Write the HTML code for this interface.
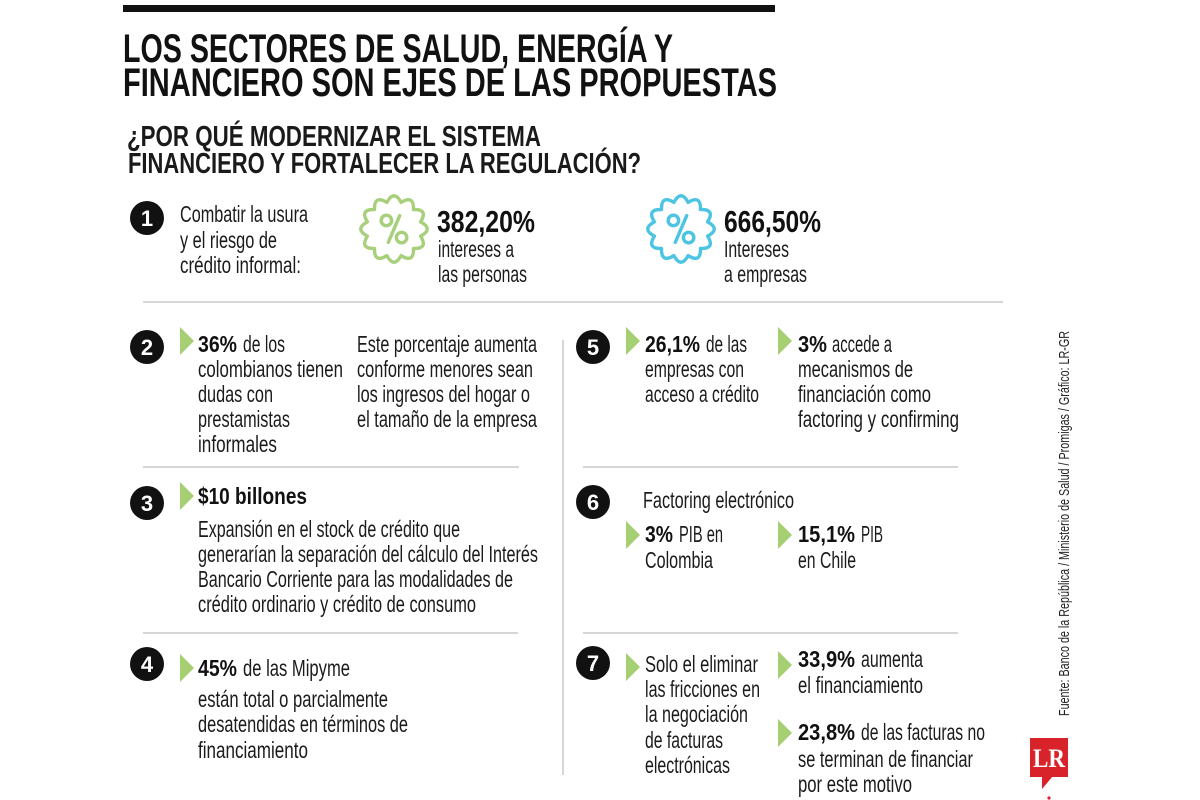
<!DOCTYPE html>
<html>
<head>
<meta charset="utf-8">
<style>
html,body{margin:0;padding:0;background:#fff;}
svg{display:block;}
.r{font-family:"Liberation Sans Narrow","Liberation Sans",sans-serif;font-size:23px;fill:#1b1b1b;}
.b{font-family:"Liberation Sans Narrow","Liberation Sans",sans-serif;font-size:23px;font-weight:bold;fill:#111;}
.t{font-family:"Liberation Sans Narrow","Liberation Sans",sans-serif;font-size:40px;font-weight:bold;fill:#111;}
.s{font-family:"Liberation Sans Narrow","Liberation Sans",sans-serif;font-size:29px;font-weight:bold;fill:#1a1a1a;}
.big{font-family:"Liberation Sans Narrow","Liberation Sans",sans-serif;font-size:31px;font-weight:bold;fill:#111;}
.n{font-family:"Liberation Sans",sans-serif;font-size:22px;font-weight:bold;fill:#fff;}
.src{font-family:"Liberation Sans Narrow","Liberation Sans",sans-serif;font-size:15px;fill:#222;}
</style>
</head>
<body>
<svg width="1200" height="800" viewBox="0 0 1200 800" xmlns="http://www.w3.org/2000/svg">
<rect width="1200" height="800" fill="#fff"/>
<defs>
<path id="badge" d="M 28.01 -7.51 Q 42 0 28.01 7.51 Q 36.37 21 20.51 20.51 Q 21 36.37 7.51 28.01 Q 0 42 -7.51 28.01 Q -21 36.37 -20.51 20.51 Q -36.37 21 -28.01 7.51 Q -42 0 -28.01 -7.51 Q -36.37 -21 -20.51 -20.51 Q -21 -36.37 -7.51 -28.01 Q 0 -42 7.51 -28.01 Q 21 -36.37 20.51 -20.51 Q 36.37 -21 28.01 -7.51 Z"/>
</defs>

<!-- top bar -->
<rect x="123" y="5" width="652" height="7" fill="#111"/>

<!-- title -->
<text class="t" x="123" y="62" textLength="550" lengthAdjust="spacingAndGlyphs">LOS SECTORES DE SALUD, ENERGÍA Y</text>
<text class="t" x="123" y="96" textLength="654" lengthAdjust="spacingAndGlyphs">FINANCIERO SON EJES DE LAS PROPUESTAS</text>
<text class="s" x="127" y="146" textLength="414" lengthAdjust="spacingAndGlyphs">¿POR QUÉ MODERNIZAR EL SISTEMA</text>
<text class="s" x="128" y="173" textLength="513" lengthAdjust="spacingAndGlyphs">FINANCIERO Y FORTALECER LA REGULACIÓN?</text>

<!-- section 1 -->
<circle cx="147" cy="218" r="17" fill="#111"/>
<text class="n" x="147" y="226" text-anchor="middle">1</text>
<text class="r" x="180" y="222" textLength="128" lengthAdjust="spacingAndGlyphs">Combatir la usura</text>
<text class="r" x="180" y="248" textLength="97" lengthAdjust="spacingAndGlyphs">y el riesgo de</text>
<text class="r" x="180" y="273" textLength="121" lengthAdjust="spacingAndGlyphs">crédito informal:</text>

<g transform="translate(394,229) scale(0.95)" stroke="#a8d07c" fill="none" stroke-width="3.6" stroke-linejoin="round" stroke-linecap="round">
<use href="#badge"/>
<circle cx="-8" cy="-9" r="5.5"/>
<circle cx="8" cy="9" r="5.5"/>
<line x1="-6" y1="14" x2="6" y2="-14"/>
</g>
<text class="big" x="437" y="232" textLength="98" lengthAdjust="spacingAndGlyphs">382,20%</text>
<text class="r" x="438" y="257" textLength="76" lengthAdjust="spacingAndGlyphs">intereses a</text>
<text class="r" x="438" y="282" textLength="89" lengthAdjust="spacingAndGlyphs">las personas</text>

<g transform="translate(681,229) scale(0.95)" stroke="#4dc4e2" fill="none" stroke-width="3.6" stroke-linejoin="round" stroke-linecap="round">
<use href="#badge"/>
<circle cx="-8" cy="-9" r="5.5"/>
<circle cx="8" cy="9" r="5.5"/>
<line x1="-6" y1="14" x2="6" y2="-14"/>
</g>
<text class="big" x="724" y="232" textLength="97" lengthAdjust="spacingAndGlyphs">666,50%</text>
<text class="r" x="724" y="257" textLength="65" lengthAdjust="spacingAndGlyphs">Intereses</text>
<text class="r" x="724" y="282" textLength="83" lengthAdjust="spacingAndGlyphs">a empresas</text>

<rect x="143" y="301" width="860" height="2" fill="#d6d6d6"/>

<!-- vertical divider -->
<rect x="562" y="340" width="2" height="435" fill="#d6d6d6"/>

<!-- section 2 -->
<circle cx="147" cy="347" r="17" fill="#111"/>
<text class="n" x="147" y="355" text-anchor="middle">2</text>
<polygon points="180,327 194,341 180,355" fill="#a6cf74"/>
<text class="b" x="198" y="352" textLength="39" lengthAdjust="spacingAndGlyphs">36%</text>
<text class="r" x="243" y="352" textLength="42" lengthAdjust="spacingAndGlyphs">de los</text>
<text class="r" x="198" y="377" textLength="145" lengthAdjust="spacingAndGlyphs">colombianos tienen</text>
<text class="r" x="198" y="402" textLength="75" lengthAdjust="spacingAndGlyphs">dudas con</text>
<text class="r" x="198" y="427" textLength="92" lengthAdjust="spacingAndGlyphs">prestamistas</text>
<text class="r" x="198" y="452" textLength="79" lengthAdjust="spacingAndGlyphs">informales</text>
<text class="r" x="357" y="352" textLength="180" lengthAdjust="spacingAndGlyphs">Este porcentaje aumenta</text>
<text class="r" x="357" y="377" textLength="176" lengthAdjust="spacingAndGlyphs">conforme menores sean</text>
<text class="r" x="357" y="402" textLength="173" lengthAdjust="spacingAndGlyphs">los ingresos del hogar o</text>
<text class="r" x="357" y="427" textLength="180" lengthAdjust="spacingAndGlyphs">el tamaño de la empresa</text>

<rect x="143" y="466" width="376" height="2" fill="#d6d6d6"/>

<!-- section 5 -->
<circle cx="593" cy="347" r="17" fill="#111"/>
<text class="n" x="593" y="355" text-anchor="middle">5</text>
<polygon points="626,327 640,341 626,355" fill="#a6cf74"/>
<text class="b" x="645" y="352" textLength="55" lengthAdjust="spacingAndGlyphs">26,1%</text>
<text class="r" x="706" y="352" textLength="41" lengthAdjust="spacingAndGlyphs">de las</text>
<text class="r" x="645" y="377" textLength="99" lengthAdjust="spacingAndGlyphs">empresas con</text>
<text class="r" x="645" y="402" textLength="114" lengthAdjust="spacingAndGlyphs">acceso a crédito</text>
<polygon points="778,327 792,341 778,355" fill="#a6cf74"/>
<text class="b" x="798" y="352" textLength="29" lengthAdjust="spacingAndGlyphs">3%</text>
<text class="r" x="832" y="352" textLength="60" lengthAdjust="spacingAndGlyphs">accede a</text>
<text class="r" x="798" y="377" textLength="115" lengthAdjust="spacingAndGlyphs">mecanismos de</text>
<text class="r" x="798" y="402" textLength="133" lengthAdjust="spacingAndGlyphs">financiación como</text>
<text class="r" x="798" y="427" textLength="161" lengthAdjust="spacingAndGlyphs">factoring y confirming</text>

<rect x="583" y="466" width="375" height="2" fill="#d6d6d6"/>

<!-- section 3 -->
<circle cx="147" cy="503" r="17" fill="#111"/>
<text class="n" x="147" y="511" text-anchor="middle">3</text>
<polygon points="180,482 194,496 180,510" fill="#a6cf74"/>
<text class="b" x="198" y="504" textLength="109" lengthAdjust="spacingAndGlyphs">$10 billones</text>
<text class="r" x="198" y="537" textLength="262" lengthAdjust="spacingAndGlyphs">Expansión en el stock de crédito que</text>
<text class="r" x="198" y="562" textLength="340" lengthAdjust="spacingAndGlyphs">generarían la separación del cálculo del Interés</text>
<text class="r" x="198" y="587" textLength="315" lengthAdjust="spacingAndGlyphs">Bancario Corriente para las modalidades de</text>
<text class="r" x="198" y="612" textLength="278" lengthAdjust="spacingAndGlyphs">crédito ordinario y crédito de consumo</text>

<rect x="143" y="632" width="375" height="2" fill="#d6d6d6"/>

<!-- section 6 -->
<circle cx="593" cy="502" r="17" fill="#111"/>
<text class="n" x="593" y="510" text-anchor="middle">6</text>
<text class="r" x="643" y="508" textLength="151" lengthAdjust="spacingAndGlyphs">Factoring electrónico</text>
<polygon points="626,521 640,535 626,549" fill="#a6cf74"/>
<text class="b" x="645" y="542" textLength="28" lengthAdjust="spacingAndGlyphs">3%</text>
<text class="r" x="679" y="542" textLength="44" lengthAdjust="spacingAndGlyphs">PIB en</text>
<text class="r" x="645" y="568" textLength="68" lengthAdjust="spacingAndGlyphs">Colombia</text>
<polygon points="778,521 792,535 778,549" fill="#a6cf74"/>
<text class="b" x="798" y="542" textLength="57" lengthAdjust="spacingAndGlyphs">15,1%</text>
<text class="r" x="861" y="542" textLength="22" lengthAdjust="spacingAndGlyphs">PIB</text>
<text class="r" x="798" y="568" textLength="58" lengthAdjust="spacingAndGlyphs">en Chile</text>

<rect x="583" y="632" width="375" height="2" fill="#d6d6d6"/>

<!-- section 4 -->
<circle cx="147" cy="664" r="17" fill="#111"/>
<text class="n" x="147" y="672" text-anchor="middle">4</text>
<polygon points="180,654 194,668 180,682" fill="#a6cf74"/>
<text class="b" x="198" y="676" textLength="39" lengthAdjust="spacingAndGlyphs">45%</text>
<text class="r" x="243" y="676" textLength="107" lengthAdjust="spacingAndGlyphs">de las Mipyme</text>
<text class="r" x="198" y="707" textLength="190" lengthAdjust="spacingAndGlyphs">están total o parcialmente</text>
<text class="r" x="198" y="732" textLength="210" lengthAdjust="spacingAndGlyphs">desatendidas en términos de</text>
<text class="r" x="198" y="758" textLength="110" lengthAdjust="spacingAndGlyphs">financiamiento</text>

<!-- section 7 -->
<circle cx="593" cy="663" r="17" fill="#111"/>
<text class="n" x="593" y="671" text-anchor="middle">7</text>
<polygon points="626,653 640,667 626,681" fill="#a6cf74"/>
<text class="r" x="645" y="672" textLength="113" lengthAdjust="spacingAndGlyphs">Solo el eliminar</text>
<text class="r" x="645" y="697" textLength="115" lengthAdjust="spacingAndGlyphs">las fricciones en</text>
<text class="r" x="645" y="722" textLength="103" lengthAdjust="spacingAndGlyphs">la negociación</text>
<text class="r" x="645" y="748" textLength="78" lengthAdjust="spacingAndGlyphs">de facturas</text>
<text class="r" x="645" y="773" textLength="85" lengthAdjust="spacingAndGlyphs">electrónicas</text>
<polygon points="778,651 792,665 778,679" fill="#a6cf74"/>
<text class="b" x="798" y="667" textLength="57" lengthAdjust="spacingAndGlyphs">33,9%</text>
<text class="r" x="861" y="667" textLength="62" lengthAdjust="spacingAndGlyphs">aumenta</text>
<text class="r" x="798" y="693" textLength="125" lengthAdjust="spacingAndGlyphs">el financiamiento</text>
<polygon points="778,719 792,733 778,747" fill="#a6cf74"/>
<text class="b" x="798" y="740" textLength="57" lengthAdjust="spacingAndGlyphs">23,8%</text>
<text class="r" x="861" y="740" textLength="124" lengthAdjust="spacingAndGlyphs">de las facturas no</text>
<text class="r" x="798" y="767" textLength="175" lengthAdjust="spacingAndGlyphs">se terminan de financiar</text>
<text class="r" x="798" y="792" textLength="114" lengthAdjust="spacingAndGlyphs">por este motivo</text>

<!-- source vertical -->
<text class="src" transform="translate(1069,716) rotate(-90)" textLength="385" lengthAdjust="spacingAndGlyphs">Fuente: Banco de la República / Ministerio de Salud / Promigas / Gráfico: LR-GR</text>

<!-- LR logo -->
<rect x="1030" y="738" width="38" height="39" fill="#d9232a"/>
<polygon points="1042,776 1053,776 1042,789" fill="#d9232a"/>
<text x="1049" y="767" text-anchor="middle" font-family="'Liberation Serif',serif" font-weight="bold" font-size="26" fill="#fff" textLength="32" lengthAdjust="spacingAndGlyphs">LR</text>
<circle cx="1049" cy="798" r="1.6" fill="#d9232a"/>
</svg>
</body>
</html>
